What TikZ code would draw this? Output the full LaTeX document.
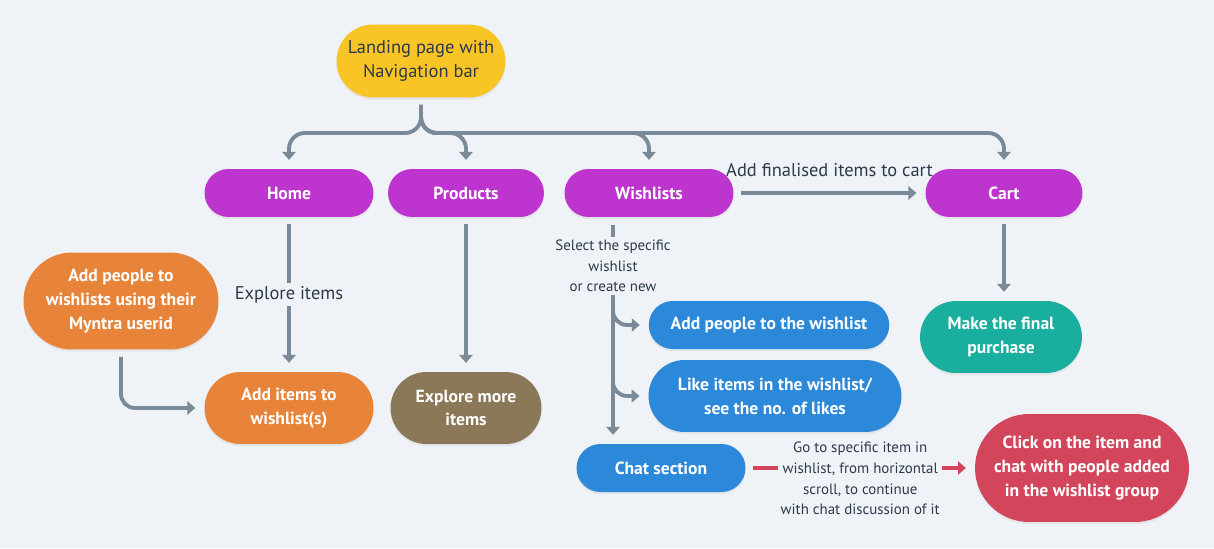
\documentclass[tikz,border=0pt]{standalone}
\usepackage{fontspec}
\setmainfont{PT Sans}
\usepackage{tikz}
\usetikzlibrary{arrows.meta,positioning,shapes.misc,shadows}
\definecolor{bgcol}{HTML}{EFF3F7}
\definecolor{linecol}{HTML}{7A8A99}
\definecolor{txtcol}{HTML}{2E3A4A}
\definecolor{yellowcol}{HTML}{F8C426}
\definecolor{purplecol}{HTML}{BD34CF}
\definecolor{orangecol}{HTML}{E8843A}
\definecolor{browncol}{HTML}{8A7858}
\definecolor{bluecol}{HTML}{2C88D9}
\definecolor{tealcol}{HTML}{1AAE9F}
\definecolor{redcol}{HTML}{D3455B}

\begin{document}
\begin{tikzpicture}[
  x=0.02cm, y=-0.02cm,
  pill/.style={rounded rectangle, text=white, align=center,
    font=\fontsize{10}{13.6}\selectfont\bfseries, inner sep=2pt,
    drop shadow={opacity=0.12, shadow xshift=0pt, shadow yshift=-1.2pt}},
  page/.style={pill, fill=purplecol, minimum width=3.52cm, minimum height=0.96cm},
  action/.style={pill, fill=bluecol, minimum height=0.96cm},
  flow/.style={draw=linecol, line width=2.2pt, -{Triangle[width=7.5pt,length=4.5pt]},
    shorten <=4pt, shorten >=5pt},
  tag/.style={fill=bgcol, text=txtcol, inner sep=2pt, align=center,
    font=\fontsize{10.5}{13.6}\selectfont},
  small/.style={fill=bgcol, text=txtcol, inner sep=1.5pt, align=center,
    font=\fontsize{8.5}{11.7}\selectfont}
]
  \fill[bgcol] (0,0) rectangle (1214,548);
  \useasboundingbox (0,0) rectangle (1214,548);

  % top level
  \node[pill, fill=yellowcol, text=txtcol, font=\fontsize{10.5}{13.6}\selectfont,
    minimum width=3.52cm, minimum height=1.46cm] (land) at (421,61)
    {Landing page with\\Navigation bar};
  \node[page] (home) at (289,193) {Home};
  \node[page, minimum width=3.26cm] (prod) at (466,193) {Products};
  \node[page] (wish) at (649,193) {Wishlists};
  \node[page, minimum width=3.28cm] (cart) at (1004,193) {Cart};

  \coordinate (fork) at (421,133);
  \foreach \dst in {home,prod,wish,cart}
    \draw[flow, rounded corners=9pt] (land.south) -- (fork) -- (fork -| \dst.north) -- (\dst.north);

  % home and products
  \node[pill, fill=orangecol, minimum width=4.04cm, minimum height=1.94cm]
    (addppl) at (121,301) {Add people to\\wishlists using their\\Myntra userid};
  \node[pill, fill=orangecol, minimum width=3.52cm, minimum height=1.44cm]
    (additems) at (289,408) {Add items to\\wishlist(s)};
  \node[pill, fill=browncol, minimum width=3.16cm, minimum height=1.44cm]
    (explore) at (466,408) {Explore more\\items};

  \draw[flow] (home.south) -- node[tag] {Explore items} (additems.north);
  \draw[flow] (prod.south) -- (explore.north);
  \draw[flow, rounded corners=8pt] (addppl.south) |- (additems.west);

  % wishlists
  \node[action, minimum width=4.95cm] (addwish) at (769,325) {Add people to the wishlist};
  \node[action, minimum width=5.2cm, minimum height=1.44cm] (like) at (775,396)
    {Like items in the wishlist/\\see the no. of likes};
  \node[action, minimum width=3.52cm] (chat) at (661,468) {Chat section};

  \coordinate (trunk) at (613,216);
  \coordinate (branch) at (613,297);
  \draw[flow, shorten <=5pt] (trunk) --
    node[small, pos=0.22] {Select the specific\\wishlist\\or create new} (chat.north -| trunk);
  \draw[flow, shorten <=0pt, rounded corners=8pt] (branch) |- (addwish.west);
  \draw[flow, shorten <=0pt, rounded corners=8pt] (branch) |- (like.west);

  % cart
  \node[pill, fill=tealcol, minimum width=3.38cm, minimum height=1.44cm]
    (buy) at (1001,337) {Make the final\\purchase};
  \draw[flow] (wish.east) -- node[tag, fill=none, above=6pt] {Add finalised items to cart} (cart.west);
  \draw[flow] (cart.south) -- (cart.south |- buy.north);

  % chat
  \node[pill, fill=redcol, minimum width=4.42cm, minimum height=2.16cm]
    (click) at (1082,468) {Click on the item and\\chat with people added\\in the wishlist group};
  \draw[flow, draw=redcol] (chat.east) --
    node[small, yshift=-6pt] {Go to specific item in\\wishlist, from horizontal\\scroll, to continue\\with chat discussion of it}
    (click.west);
\end{tikzpicture}
\end{document}
